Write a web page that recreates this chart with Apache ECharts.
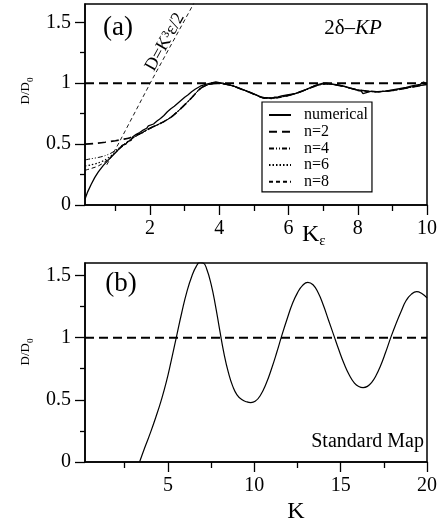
<!DOCTYPE html>
<html><head><meta charset="utf-8">
<script src="https://cdn.jsdelivr.net/npm/echarts@6/dist/echarts.min.js"></script>
<style>html,body{margin:0;padding:0;background:#fff}#c{width:443px;height:522px}</style>
</head><body><div id="c"></div>
<script>
// ---- Panel (a): 2δ-KP ----
const numerical = [[0.12,0.05],[0.2,0.11],[0.3,0.17],[0.4,0.225],[0.5,0.27],[0.65,0.325],[0.8,0.37],[0.95,0.415],[1.1,0.46],[1.2,0.49],[1.3,0.5],[1.35,0.52],[1.4,0.535],[1.45,0.53],[1.5,0.56],[1.55,0.555],[1.6,0.58],[1.65,0.575],[1.7,0.595],[1.75,0.59],[1.8,0.615],[1.85,0.605],[1.9,0.63],[1.95,0.65],[2.0,0.645],[2.1,0.665],[2.2,0.69],[2.25,0.68],[2.3,0.71],[2.4,0.735],[2.45,0.75],[2.5,0.765],[2.55,0.76],[2.6,0.79],[2.7,0.81],[2.8,0.835],[2.9,0.86],[3.0,0.885],[3.1,0.905],[3.2,0.93],[3.3,0.95],[3.45,0.975],[3.6,0.99],[3.75,1.0],[3.9,1.01],[4.0,1.005],[4.1,1.0],[4.2,0.99],[4.4,0.978],[4.6,0.955],[4.8,0.935],[5.0,0.912],[5.1,0.9],[5.2,0.886],[5.3,0.875],[5.4,0.88],[5.5,0.874],[5.6,0.885],[5.7,0.888],[5.8,0.895],[6.0,0.905],[6.2,0.915],[6.4,0.935],[6.6,0.96],[6.8,0.985],[6.9,0.993],[7.0,1.0],[7.1,1.0],[7.2,0.994],[7.4,0.985],[7.6,0.975],[7.8,0.958],[8.0,0.94],[8.1,0.935],[8.15,0.915],[8.2,0.93],[8.4,0.935],[8.6,0.928],[8.8,0.935],[9.0,0.945],[9.2,0.955],[9.4,0.965],[9.6,0.98],[9.8,0.99],[9.9,1.01],[10,0.995]];
const n2Head = [[0.12,0.5],[0.4,0.505],[0.7,0.515],[1.0,0.528],[1.2,0.538],[1.4,0.55],[1.6,0.575]];
const n4Head = [[0.12,0.37],[0.3,0.38],[0.5,0.39],[0.7,0.405],[0.9,0.43],[1.1,0.47],[1.3,0.51],[1.5,0.55]];
const n6Head = [[0.12,0.32],[0.3,0.33],[0.5,0.345],[0.7,0.37],[0.9,0.41],[1.1,0.46],[1.3,0.505],[1.5,0.55]];
const n8Head = [[0.12,0.285],[0.3,0.3],[0.5,0.32],[0.7,0.355],[0.9,0.405],[1.1,0.455],[1.3,0.505],[1.5,0.55]];
const analyticTail = [[1.75,0.59],[2.0,0.63],[2.3,0.67],[2.6,0.72],[2.9,0.795],[3.2,0.88],[3.45,0.955],[3.7,0.99],[3.95,1.0],[4.3,0.985],[4.7,0.945],[5.0,0.91],[5.3,0.88],[5.6,0.88],[6.0,0.9],[6.4,0.935],[6.8,0.98],[7.1,0.995],[7.5,0.98],[8.0,0.945],[8.5,0.93],[9.0,0.94],[9.5,0.965],[10,0.99]];
const powerLaw = [[0.75,0.33],[1.1,0.51],[2.05,1.025],[3.35,1.7]];
const refLineA = [[0.12,1],[10,1]];
const aMajorX = [2,4,6,8,10];
const aMinorX = [1,3,5,7,9];
const aMajorY = [0,0.5,1,1.5];
const aMinorY = [0.25,0.75,1.25];

// ---- Panel (b): Standard Map ----
const stdMap = [[3.36,0],[3.7,0.13],[4.0,0.24],[4.3,0.36],[4.6,0.49],[4.9,0.64],[5.2,0.82],[5.5,1.01],[5.8,1.2],[6.1,1.37],[6.4,1.5],[6.65,1.575],[6.85,1.605],[7.05,1.6],[7.25,1.55],[7.5,1.43],[7.75,1.26],[8.0,1.06],[8.25,0.87],[8.5,0.72],[8.75,0.61],[9.0,0.54],[9.3,0.5],[9.55,0.484],[9.8,0.478],[10.05,0.488],[10.35,0.535],[10.7,0.635],[11.0,0.75],[11.3,0.88],[11.6,1.02],[11.9,1.15],[12.2,1.27],[12.5,1.36],[12.8,1.42],[13.1,1.445],[13.4,1.425],[13.7,1.36],[14.0,1.26],[14.3,1.14],[14.6,1.02],[14.9,0.9],[15.2,0.79],[15.5,0.7],[15.8,0.635],[16.05,0.607],[16.3,0.598],[16.55,0.608],[16.8,0.64],[17.05,0.695],[17.3,0.77],[17.6,0.88],[17.9,1.0],[18.2,1.11],[18.5,1.21],[18.8,1.3],[19.1,1.35],[19.4,1.37],[19.7,1.355],[20,1.32]];
const refLineB = [[0.2,1],[20,1]];
const bMajorX = [5,10,15,20];
const bMinorX = [2.5,7.5,12.5,17.5];
const bMajorY = [0,0.5,1,1.5];
const bMinorY = [0.25,0.75,1.25];

const SERIF = 'Liberation Serif';
const chart = echarts.init(document.getElementById('c'));

function xMain(grid, min, max, vals) {
  return {type:'value', gridIndex:grid, min:min, max:max, position:'bottom',
    axisLine:{show:true, lineStyle:{color:'#000', width:1.5}},
    axisTick:{show:true, inside:false, length:10, customValues:vals, lineStyle:{color:'#000', width:1.3}},
    axisLabel:{show:true, customValues:vals, margin:14, color:'#000', fontSize:20, fontFamily:SERIF},
    splitLine:{show:false}};
}
function xMinor(grid, min, max, vals) {
  return {type:'value', gridIndex:grid, min:min, max:max, position:'bottom',
    axisLine:{show:false},
    axisTick:{show:true, inside:false, length:6, customValues:vals, lineStyle:{color:'#000', width:1.3}},
    axisLabel:{show:false}, splitLine:{show:false}};
}
function yMain(grid, max, vals) {
  return {type:'value', gridIndex:grid, min:0, max:max, position:'left',
    axisLine:{show:true, lineStyle:{color:'#000', width:1.5}},
    axisTick:{show:true, inside:false, length:10, customValues:vals, lineStyle:{color:'#000', width:1.3}},
    axisLabel:{show:true, customValues:vals, margin:14, color:'#000', fontSize:20, fontFamily:SERIF},
    splitLine:{show:false}};
}
function yMinor(grid, max, vals) {
  return {type:'value', gridIndex:grid, min:0, max:max, position:'left',
    axisLine:{show:false},
    axisTick:{show:true, inside:false, length:5, customValues:vals, lineStyle:{color:'#000', width:1.3}},
    axisLabel:{show:false}, splitLine:{show:false}};
}
function lineSeries(name, xi, yi, data, width, type, extra) {
  return Object.assign({type:'line', name:name, xAxisIndex:xi, yAxisIndex:yi, data:data,
    symbol:'none', showSymbol:false, silent:true, clip:true,
    lineStyle:{color:'#000', width:width, type:type}, itemStyle:{color:'#000'}}, extra || {});
}

const option = {
  animation:false,
  backgroundColor:'#fff',
  color:['#000'],
  textStyle:{fontFamily:SERIF},
  grid:[
    {left:85, top:4, width:342, height:201, show:true, borderColor:'#000', borderWidth:1.5, backgroundColor:'transparent'},
    {left:85, top:263, width:342, height:199, show:true, borderColor:'#000', borderWidth:1.5, backgroundColor:'transparent'}
  ],
  xAxis:[xMain(0,0.12,10,aMajorX), xMinor(0,0.12,10,aMinorX), xMain(1,0.2,20,bMajorX), xMinor(1,0.2,20,bMinorX)],
  yAxis:[yMain(0,1.65,aMajorY), yMinor(0,1.65,aMinorY), yMain(1,1.6,bMajorY), yMinor(1,1.6,bMinorY)],
  legend:{
    data:['numerical','n=2','n=4','n=6','n=8'],
    orient:'vertical', left:262, top:102,
    padding:[5,4,2,6], itemGap:0.7, itemWidth:22, itemHeight:10,
    borderColor:'#000', borderWidth:1.2, backgroundColor:'#fff',
    selectedMode:false,
    itemStyle:{color:'rgba(0,0,0,0)', borderWidth:0, opacity:0},
    textStyle:{color:'#000', fontSize:16, fontFamily:SERIF, lineHeight:16, padding:[0,0,0,8]}
  },
  series:[
    lineSeries('D=K³ε/2',0,0,powerLaw,0.9,[4,3]),
    lineSeries('ref a',0,0,refLineA,2,[9,5]),
    lineSeries('n=2',0,0,n2Head.concat(analyticTail),1.6,[8,5],{smooth:0.3}),
    lineSeries('n=4',0,0,n4Head.concat(analyticTail),1,[5,2,1,2,1,2],{smooth:0.3}),
    lineSeries('n=6',0,0,n6Head.concat(analyticTail),1.2,[1.5,2],{smooth:0.3}),
    lineSeries('n=8',0,0,n8Head.concat(analyticTail),1,[4,3],{smooth:0.3}),
    lineSeries('numerical',0,0,numerical,1.3,'solid'),
    lineSeries('ref b',2,2,refLineB,2,[9,5]),
    lineSeries('Standard Map',2,2,stdMap,1.2,'solid',{smooth:0.5})
  ],
  graphic:[
    {type:'text', x:118, y:28, style:{text:'(a)', fontSize:27, fontFamily:SERIF, fill:'#000', align:'center', verticalAlign:'middle'}},
    {type:'text', x:353, y:28, style:{text:'2δ–{i|KP}', fontSize:21, fontFamily:SERIF, fill:'#000', align:'center', verticalAlign:'middle',
      rich:{i:{fontSize:21, fontFamily:SERIF, fontStyle:'italic', fill:'#000'}}}},
    {type:'text', x:165, y:42, rotation:61*Math.PI/180, style:{text:'D=K³ε/2', fontSize:18, fontFamily:SERIF, fill:'#000', align:'center', verticalAlign:'middle'}},
    {type:'text', x:26, y:91, rotation:Math.PI/2, style:{text:'{b|D/D}{s|0}', fill:'#000', align:'center', verticalAlign:'middle',
      rich:{b:{fontSize:13, fontFamily:SERIF, lineHeight:18, fill:'#000'}, s:{fontSize:9, fontFamily:SERIF, lineHeight:10, verticalAlign:'bottom', fill:'#000'}}}},
    {type:'text', x:302, y:235, style:{text:'{b|K}{s|ε}', fill:'#000', align:'left', verticalAlign:'middle',
      rich:{b:{fontSize:24, fontFamily:SERIF, lineHeight:28, fill:'#000'}, s:{fontSize:15, fontFamily:SERIF, lineHeight:14, verticalAlign:'bottom', fill:'#000'}}}},
    {type:'text', x:121, y:284, style:{text:'(b)', fontSize:27, fontFamily:SERIF, fill:'#000', align:'center', verticalAlign:'middle'}},
    {type:'text', x:26, y:352, rotation:Math.PI/2, style:{text:'{b|D/D}{s|0}', fill:'#000', align:'center', verticalAlign:'middle',
      rich:{b:{fontSize:13, fontFamily:SERIF, lineHeight:18, fill:'#000'}, s:{fontSize:9, fontFamily:SERIF, lineHeight:10, verticalAlign:'bottom', fill:'#000'}}}},
    {type:'text', x:296, y:512, style:{text:'K', fontSize:24, fontFamily:SERIF, fill:'#000', align:'center', verticalAlign:'middle'}},
    {type:'text', x:424, y:442, style:{text:'Standard Map', fontSize:20, fontFamily:SERIF, fill:'#000', align:'right', verticalAlign:'middle'}}
  ]
};
chart.setOption(option);
</script>
</body></html>
